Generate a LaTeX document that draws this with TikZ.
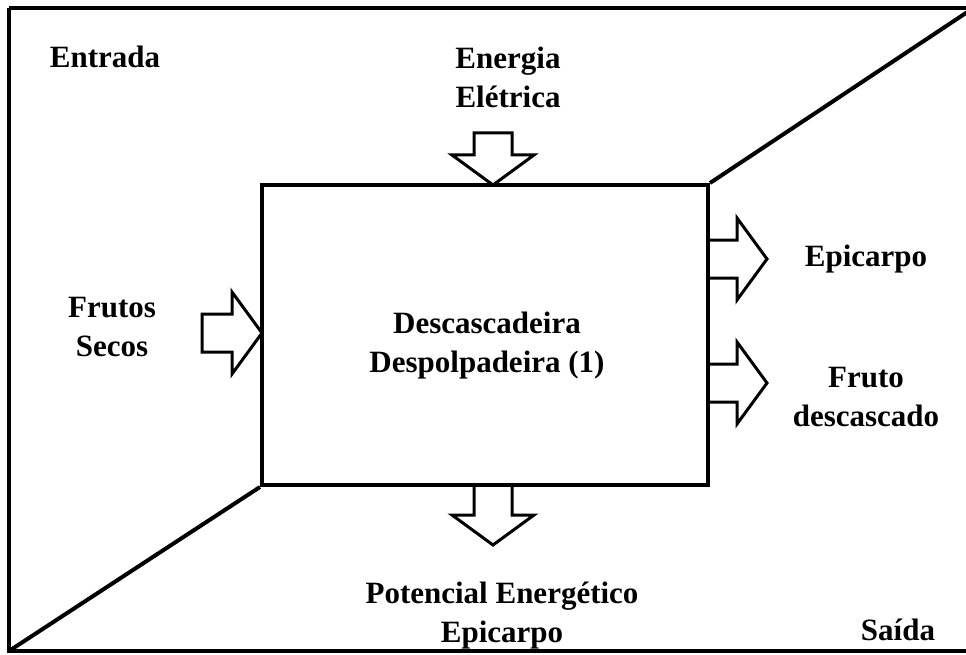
\documentclass[tikz,border=0pt]{standalone}
\usepackage{fontspec}
\setmainfont{Liberation Serif}
\begin{document}
\begin{tikzpicture}[x=1pt,y=-1pt,
  frame/.style={line width=4pt},
  label/.style={font=\fontsize{31}{39}\selectfont\bfseries, align=center, inner sep=0pt},
  arrowline/.style={line width=3pt, line join=miter},
  pics/blockarrow/.style={code={
    \draw[arrowline] (-#1,-19) -- (-30,-19) -- (-30,-41) -- (0,0)
      -- (-30,41) -- (-30,19) -- (-#1,19) -- cycle;}}]
\useasboundingbox (0,0) rectangle (966,655);

% outer frame (right side runs past the page edge)
\draw[frame] (9,8) -- (990,8) (9,8) -- (9,651) -- (990,651);

% process block
\node[draw, frame, minimum width=446pt, minimum height=300pt, inner sep=0pt]
  (proc) at (485,335) {};
\node[label] (proctext) at (487,346) {Descascadeira\\Despolpadeira (1)};

% diagonals splitting input and output zones
\coordinate (tr) at (990,-3);
\coordinate (bl) at (9,651);
\draw[frame] (proc.north east) -- (tr);
\draw[frame] (proc.south west) -- (bl);

% block arrows
\pic[rotate=-90] (ein) at (493,185) {blockarrow=52};
\pic[rotate=-90] (eout) at (493,545) {blockarrow=60};
\pic (fin) at (262,333) {blockarrow=60};
\pic (o1) at (767,259) {blockarrow=59};
\pic (o2) at (767,383) {blockarrow=59};

% labels
\node[label] (entrada) at (105,57) {Entrada};
\node[label] (energia) at (508,77) {Energia\\Elétrica};
\node[label] (frutos) at (112,327) {Frutos\\Secos};
\node[label] (epi) at (866,259) {Epicarpo};
\node[label] (fruto) at (866,397) {Fruto\\descascado};
\node[label] (pot) at (502,616) {Potencial Energético\\Epicarpo};
\node[label] (saida) at (898,630) {Saída};
\end{tikzpicture}
\end{document}
